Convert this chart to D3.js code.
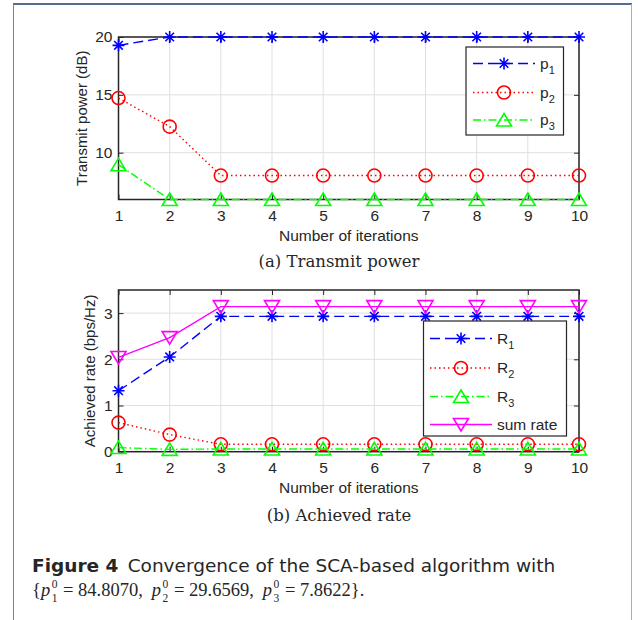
<!DOCTYPE html>
<html lang="en">
<head>
<meta charset="UTF-8">
<title>Convergence of the SCA-based algorithm</title>
<script src="https://d3js.org/d3.v7.min.js"></script>
<style>
  body { margin: 0; background: #fff; }
  svg text { fill: #262626; }
</style>
</head>
<body>
<div id="chart"></div>
<script>
// data
const iterations = [1, 2, 3, 4, 5, 6, 7, 8, 9, 10];
const p1 = [19.28, 20, 20, 20, 20, 20, 20, 20, 20, 20];
const p2 = [14.72, 12.25, 8.02, 8.02, 8.02, 8.02, 8.02, 8.02, 8.02, 8.02];
const p3 = [8.96, 5.95, 5.95, 5.95, 5.95, 5.95, 5.95, 5.95, 5.95, 5.95];
const R1 = [1.32, 2.05, 2.93, 2.93, 2.93, 2.93, 2.93, 2.93, 2.93, 2.93];
const R2 = [0.63, 0.37, 0.16, 0.16, 0.16, 0.16, 0.16, 0.16, 0.16, 0.16];
const R3 = [0.09, 0.05, 0.06, 0.06, 0.06, 0.06, 0.06, 0.06, 0.06, 0.06];
const sumRate = [2.04, 2.47, 3.14, 3.14, 3.14, 3.14, 3.14, 3.14, 3.14, 3.14];
const powerTicks = [10, 15, 20];
const rateTicks = [0, 1, 2, 3];
const powerNames = ["p", "p", "p"];
const rateNames = ["R", "R", "R", "sum rate"];
const initVals = ['84.8070', '29.6569', '7.8622'];

const W = 638, H = 620;
const sans = 'Liberation Sans, Arial, sans-serif';
const serif = 'DejaVu Serif, Liberation Serif, serif';
const mathFont = 'Liberation Serif, Times New Roman, serif';
const svg = d3.select('#chart').append('svg')
    .attr('width', W).attr('height', H);

// page frame
svg.append('line').attr('x1', 13).attr('x2', 632).attr('y1', 4).attr('y2', 4)
    .style('stroke', '#1f3b66').style('stroke-width', 1.5);
svg.append('line').attr('x1', 13.5).attr('x2', 13.5).attr('y1', 4).attr('y2', H)
    .style('stroke', '#6f84a3').style('stroke-width', 1);
svg.append('line').attr('x1', 631.5).attr('x2', 631.5).attr('y1', 4).attr('y2', H)
    .style('stroke', '#9fb0c8').style('stroke-width', 1);

const xScale = d3.scaleLinear().domain([1, 10]).range([118.5, 579]);

const styles = {
    blue:    { color: '#0000ff', dash: '10,5', marker: 'star' },
    red:     { color: '#ff0000', dash: '1.5,3', marker: 'circle' },
    green:   { color: '#00ff00', dash: '8,3,1.5,3', marker: 'tri' },
    magenta: { color: '#ff00ff', dash: null, marker: 'tridown' }
};

function markerPath(type) {
    const p = d3.path();
    if (type === 'star') {
        const r = 6, d = 4.3;
        p.moveTo(0, -r); p.lineTo(0, r);
        p.moveTo(-r, 0); p.lineTo(r, 0);
        p.moveTo(-d, -d); p.lineTo(d, d);
        p.moveTo(-d, d); p.lineTo(d, -d);
    } else if (type === 'circle') {
        p.arc(0, 0, 6.5, 0, 2 * Math.PI);
    } else if (type === 'tri') {
        p.moveTo(0, -6.5); p.lineTo(7.5, 6); p.lineTo(-7.5, 6); p.closePath();
    } else {
        p.moveTo(0, 6.5); p.lineTo(7.5, -6); p.lineTo(-7.5, -6); p.closePath();
    }
    return p.toString();
}

function drawMarker(g, type, color, x, y) {
    g.append('path')
        .attr('d', markerPath(type))
        .attr('transform', 'translate(' + x + ',' + y + ')')
        .style('fill', 'none')
        .style('stroke', color)
        .style('stroke-width', 1.6);
}

function drawPanel(cfg) {
    const yScale = d3.scaleLinear().domain(cfg.yDomain).range([cfg.bottom, cfg.top]);
    const g = svg.append('g');
    const x0 = xScale.range()[0], x1 = xScale.range()[1];

    // grid
    g.selectAll('.vgrid').data(iterations).enter().append('line')
        .attr('x1', d => xScale(d)).attr('x2', d => xScale(d))
        .attr('y1', cfg.top).attr('y2', cfg.bottom)
        .style('stroke', '#dfdfdf').style('stroke-width', 1);
    g.selectAll('.hgrid').data(cfg.yTicks).enter().append('line')
        .attr('x1', x0).attr('x2', x1)
        .attr('y1', d => yScale(d)).attr('y2', d => yScale(d))
        .style('stroke', '#dfdfdf').style('stroke-width', 1);

    // axes with inward ticks on all four sides
    const xAxis = d3.axisBottom(xScale).tickValues(iterations).tickSizeInner(-5).tickSizeOuter(0).tickPadding(10);
    const xTop = d3.axisTop(xScale).tickValues(iterations).tickSizeInner(-5).tickSizeOuter(0).tickFormat('');
    const yAxis = d3.axisLeft(yScale).tickValues(cfg.yTicks).tickSizeInner(-5).tickSizeOuter(0)
        .tickPadding(6).tickFormat(d3.format('d'));
    const yRight = d3.axisRight(yScale).tickValues(cfg.yTicks).tickSizeInner(-5).tickSizeOuter(0).tickFormat('');

    const axes = [
        g.append('g').attr('transform', 'translate(0,' + cfg.bottom + ')').call(xAxis),
        g.append('g').attr('transform', 'translate(0,' + cfg.top + ')').call(xTop),
        g.append('g').attr('transform', 'translate(' + x0 + ',0)').call(yAxis),
        g.append('g').attr('transform', 'translate(' + x1 + ',0)').call(yRight)
    ];
    axes.forEach(a => {
        a.attr('font-size', null).attr('font-family', null);
        a.select('.domain').remove();
        a.selectAll('line').style('stroke', '#262626');
        a.selectAll('text')
            .style('font-family', sans)
            .style('font-size', '15.5px')
            .style('fill', '#262626');
    });

    g.append('rect')
        .attr('x', x0).attr('y', cfg.top)
        .attr('width', x1 - x0)
        .attr('height', cfg.bottom - cfg.top)
        .style('fill', 'none').style('stroke', '#262626').style('stroke-width', 1.5);

    // series
    const line = d3.line().x((d, i) => xScale(iterations[i])).y(d => yScale(d));
    cfg.series.forEach(s => {
        const st = styles[s.style];
        g.append('path').datum(s.values)
            .attr('d', line)
            .style('fill', 'none')
            .style('stroke', st.color)
            .style('stroke-width', 1.4)
            .style('stroke-dasharray', st.dash);
        s.values.forEach((v, i) => drawMarker(g, st.marker, st.color, xScale(iterations[i]), yScale(v)));
    });

    // labels
    g.append('text')
        .attr('transform', 'translate(' + cfg.yLabelX + ',' + ((cfg.top + cfg.bottom) / 2) + ') rotate(-90)')
        .attr('text-anchor', 'middle')
        .style('font-family', sans)
        .style('font-size', '15px')
        .text(cfg.yLabel);
    g.append('text')
        .attr('x', (x0 + x1) / 2)
        .attr('y', cfg.bottom + 41)
        .attr('text-anchor', 'middle')
        .style('font-family', sans)
        .style('font-size', '15.5px')
        .text('Number of iterations');
    g.append('text')
        .attr('x', 339)
        .attr('y', cfg.bottom + cfg.captionDy)
        .attr('text-anchor', 'middle')
        .style('font-family', serif)
        .style('font-size', '16.5px')
        .text(cfg.caption);

    // legend
    const L = cfg.legend;
    const lg = g.append('g');
    lg.append('rect')
        .attr('x', L.x0).attr('y', L.y0)
        .attr('width', L.x1 - L.x0).attr('height', L.y1 - L.y0)
        .style('fill', '#fff').style('stroke', '#262626').style('stroke-width', 1.2);
    cfg.series.forEach((s, i) => {
        const st = styles[s.style];
        const y = L.rows[i];
        lg.append('line')
            .attr('x1', L.lx0).attr('x2', L.lx1).attr('y1', y).attr('y2', y)
            .style('stroke', st.color).style('stroke-width', 1.4)
            .style('stroke-dasharray', st.dash);
        drawMarker(lg, st.marker, st.color, (L.lx0 + L.lx1) / 2, y);
        const t = lg.append('text')
            .attr('x', L.lx1 + 5).attr('y', y + 5)
            .style('font-family', sans)
            .style('font-size', '15.5px');
        t.append('tspan').text(s.name);
        if (s.sub) {
            t.append('tspan').attr('dy', 5).style('font-size', '11px').text(s.sub);
        }
    });
}

drawPanel({
    top: 37, bottom: 199.5,
    yDomain: [d3.min(p3), 20], yTicks: powerTicks,
    yLabel: 'Transmit power (dB)', yLabelX: 87,
    caption: '(a) Transmit power', captionDy: 67,
    series: [
        { name: powerNames[0], sub: '1', values: p1, style: 'blue' },
        { name: powerNames[1], sub: '2', values: p2, style: 'red' },
        { name: powerNames[2], sub: '3', values: p3, style: 'green' }
    ],
    legend: { x0: 466, x1: 563.5, y0: 47, y1: 135, lx0: 473, lx1: 535, rows: [63.5, 92.5, 120] }
});

drawPanel({
    top: 290, bottom: 451.7,
    yDomain: [0, 3.5], yTicks: rateTicks,
    yLabel: 'Achieved rate (bps/Hz)', yLabelX: 95,
    caption: '(b) Achieved rate', captionDy: 69,
    series: [
        { name: rateNames[0], sub: '1', values: R1, style: 'blue' },
        { name: rateNames[1], sub: '2', values: R2, style: 'red' },
        { name: rateNames[2], sub: '3', values: R3, style: 'green' },
        { name: rateNames[3], sub: null, values: sumRate, style: 'magenta' }
    ],
    legend: { x0: 423.5, x1: 566.5, y0: 321, y1: 436, lx0: 430, lx1: 492, rows: [338.5, 368, 396.5, 424.5] }
});

// figure caption
const cap = svg.append('text').attr('x', 32).attr('y', 572)
    .style('font-family', 'DejaVu Sans, sans-serif')
    .style('font-size', '18.5px');
cap.append('tspan').style('font-weight', 'bold').text('Figure 4');
cap.append('tspan').text('\u2002Convergence of the SCA-based algorithm with');

// second caption line, laid out piece by piece
let cx = 32;
const mathY = 596;
function piece(txt, opts) {
    const t = svg.append('text')
        .attr('x', cx).attr('y', mathY + (opts.dy || 0))
        .style('font-family', mathFont)
        .style('font-size', (opts.size || 18.5) + 'px')
        .style('font-style', opts.italic ? 'italic' : 'normal')
        .style('white-space', 'pre')
        .text(txt);
    const w = t.node().getComputedTextLength();
    if (!opts.stay) cx += w;
    return w;
}
piece('{', {});
initVals.forEach((v, i) => {
    piece('p', { italic: true });
    cx += 1.5;
    const w0 = piece('0', { size: 11.5, dy: -8.5, stay: true });
    const w1 = piece(String(i + 1), { size: 11.5, dy: 5.5, stay: true });
    cx += Math.max(w0, w1) + 1;
    piece(' = ' + v + (i < 2 ? ',' : ''), {});
    if (i < 2) cx += 9;
});
piece('}.', {});
</script>
</body>
</html>
